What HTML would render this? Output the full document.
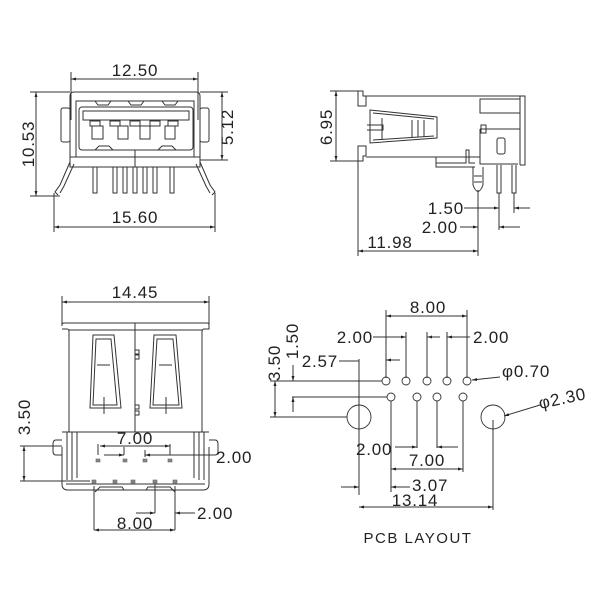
<!DOCTYPE html>
<html><head><meta charset="utf-8"><style>
html,body{margin:0;padding:0;background:#fff;}
svg{display:block;}
text{font-family:"Liberation Sans",sans-serif;fill:#222;}
</style></head><body>
<svg width="600" height="600" viewBox="0 0 600 600" xmlns="http://www.w3.org/2000/svg">
<defs>
<marker id="a" viewBox="0 0 10 10" refX="10" refY="5" markerWidth="7" markerHeight="5" orient="auto-start-reverse" markerUnits="userSpaceOnUse"><path d="M0,2 L10,5 L0,8 z" fill="#222"/></marker>
</defs>
<g stroke="#333" stroke-width="1" fill="none">
<!-- TOP LEFT VIEW -->
<line x1="71" y1="72" x2="71" y2="120"/><line x1="198" y1="72" x2="198" y2="120"/>
<line x1="71" y1="79" x2="198" y2="79" marker-start="url(#a)" marker-end="url(#a)"/>
<path d="M70,157 V96 Q70,92 74,92 H196 Q200,92 200,96 V157"/>
<rect x="61" y="108" width="9" height="34" rx="2"/><rect x="200" y="108" width="9" height="34" rx="2"/>
<path d="M76,157 V101 H194 V157"/>
<rect x="79" y="107" width="114" height="43" rx="3"/>
<rect x="83" y="111" width="106" height="9"/>
<rect x="90" y="121" width="10" height="5"/><rect x="110" y="121" width="10" height="5"/><rect x="130" y="121" width="10" height="5"/><rect x="150" y="121" width="10" height="5"/><rect x="168" y="121" width="10" height="5"/>
<rect x="92" y="126" width="11" height="13"/><rect x="118" y="126" width="10" height="13"/><rect x="140" y="126" width="10" height="13"/><rect x="165" y="126" width="10" height="13"/>
<path d="M95,150 l4,-4 h10 l4,4 M158,150 l4,-4 h10 l4,4 M95,101 l3,4 h10 l3,-4 M128,101 l3,4 h10 l3,-4 M162,101 l3,4 h10 l3,-4"/>
<rect x="70" y="157" width="130" height="10"/><line x1="135" y1="150" x2="135" y2="167"/>
<path d="M93,167 V193 H97 V167 M113,167 V193 H117 V167 M123,167 V193 H127 V167 M133,167 V193 H137 V167 M143,167 V193 H147 V167 M153,167 V193 H157 V167 M170,167 V193 H174 V167"/>
<path d="M70,162 L60,185 L55,192 L58,195 M74,164 L64,186 L60,193"/>
<path d="M200,162 L210,185 L215,192 L212,195 M196,164 L206,186 L210,193"/>
<line x1="30" y1="92" x2="70" y2="92"/><line x1="30" y1="196" x2="60" y2="196"/>
<line x1="36" y1="92" x2="36" y2="196" marker-start="url(#a)" marker-end="url(#a)"/>
<line x1="200" y1="92" x2="228" y2="92"/><line x1="200" y1="160" x2="228" y2="160"/>
<line x1="222" y1="92" x2="222" y2="160" marker-start="url(#a)" marker-end="url(#a)"/>
<line x1="54" y1="193" x2="54" y2="232"/><line x1="215" y1="193" x2="215" y2="232"/>
<line x1="54" y1="227" x2="215" y2="227" marker-start="url(#a)" marker-end="url(#a)"/>

<!-- TOP RIGHT VIEW -->
<line x1="330" y1="91" x2="360" y2="91"/><line x1="330" y1="161" x2="360" y2="161"/>
<line x1="336" y1="91" x2="336" y2="161" marker-start="url(#a)" marker-end="url(#a)"/>
<path d="M358,91 H363 V96 H366 M358,91 V106 H366 V96 M358,161 H363 V156 H366 M358,161 V146 H366 V156"/>
<path d="M366,96 H525 V165 H520 M366,157 H480"/>
<path d="M520,96 V165"/>
<rect x="480" y="99" width="40" height="14"/>
<path d="M480,129 V164 H518 M480,129 H520"/>
<rect x="481" y="125" width="5" height="8"/>
<rect x="497" y="138" width="8" height="16" rx="2"/>
<path d="M370,110 L437,117 L437,138 L370,143 Z M373,113 L434,119 M373,140 L434,136"/>
<path d="M367,125 H383 V130 H367"/><line x1="382" y1="118" x2="382" y2="140"/>
<path d="M412,120 V137 M418,120 V137 M424,120 V137"/>
<path d="M436,157 V163 H466 V150 H469 V163 H475 M436,163 V167 H475"/>
<path d="M473,167 V185 Q478,198 483,185 V167 M474,176 H482 M474,182 H482"/>
<path d="M497,165 V193 H501 V165 M512,165 V193 H516 V165"/>
<line x1="358" y1="161" x2="358" y2="256"/><line x1="478" y1="190" x2="478" y2="256"/>
<line x1="499" y1="193" x2="499" y2="230"/><line x1="514" y1="193" x2="514" y2="213"/>
<line x1="358" y1="251" x2="478" y2="251" marker-start="url(#a)" marker-end="url(#a)"/>
<line x1="464" y1="208" x2="499" y2="208" marker-end="url(#a)"/>
<line x1="530" y1="208" x2="514" y2="208" marker-end="url(#a)"/>
<line x1="460" y1="227" x2="478" y2="227" marker-end="url(#a)"/>
<line x1="520" y1="227" x2="499" y2="227" marker-end="url(#a)"/>

<!-- BOTTOM LEFT VIEW -->
<line x1="62" y1="296" x2="62" y2="326"/><line x1="209" y1="296" x2="209" y2="326"/>
<line x1="62" y1="302" x2="209" y2="302" marker-start="url(#a)" marker-end="url(#a)"/>
<path d="M62,325 Q62,323 64,323 H207 Q209,323 209,325 V329 H204 Q202,329 202,332 V432 M62,329 H67 Q69,329 69,332 V432"/>
<path d="M69,330 H202"/>
<line x1="135" y1="323" x2="135" y2="432"/>
<path d="M135,350 h4 v4 h-4 M135,355 h4 v4 h-4 M135,405 h4 v4 h-4 M135,411 h4 v4 h-4"/>
<path d="M93,335 H114 L121,408 H90 Z M96,339 H111 L117,405 H93 Z M97,365 H110"/>
<line x1="104" y1="397" x2="104" y2="414"/>
<path d="M154,335 H176 L182,408 H150 Z M157,339 H173 L179,405 H153 Z M159,365 H172"/>
<line x1="166" y1="397" x2="166" y2="414"/>
<path d="M62,432 H209 M67,432 V480 M72,432 V480 M77,432 V478 M204,432 V480 M199,432 V480 M194,432 V478"/>
<path d="M62,447 V484 Q62,490 68,490 H203 Q209,490 209,484 V447"/>
<path d="M66,484 H205"/>
<path d="M62,440 H56 Q53,440 53,444 V451 Q53,455 56,455 H62 M209,440 H215 Q218,440 218,444 V451 Q218,455 215,455 H209"/>
<g fill="#888" stroke="#666" stroke-width="0.6">
<rect x="96" y="459" width="4" height="3"/><rect x="123" y="459" width="4" height="3"/><rect x="143" y="459" width="4" height="3"/><rect x="168" y="459" width="4" height="3"/>
<rect x="92" y="480" width="4" height="3"/><rect x="113" y="480" width="4" height="3"/><rect x="131" y="480" width="4" height="3"/><rect x="153" y="480" width="4" height="3"/><rect x="173" y="480" width="4" height="3"/>
</g>
<line x1="20" y1="446" x2="62" y2="446"/><line x1="20" y1="481" x2="90" y2="481"/>
<line x1="24" y1="446" x2="24" y2="481" marker-start="url(#a)" marker-end="url(#a)"/>
<line x1="98" y1="444" x2="98" y2="455"/><line x1="170" y1="444" x2="170" y2="455"/>
<line x1="100" y1="446" x2="170" y2="446" marker-start="url(#a)" marker-end="url(#a)"/>
<line x1="124" y1="447" x2="124" y2="455"/><line x1="145" y1="450" x2="145" y2="457"/>
<line x1="104" y1="455" x2="124" y2="455" marker-end="url(#a)"/>
<line x1="215" y1="455" x2="145" y2="455" marker-end="url(#a)"/>
<path d="M94,486 V530 M175,486 V530 M155,484 V513"/>
<path d="M95,492 L100,487 H122 L124,490 M146,490 L148,487 H170 L175,492"/>
<line x1="136" y1="513" x2="155" y2="513" marker-end="url(#a)"/>
<line x1="195" y1="513" x2="175" y2="513" marker-end="url(#a)"/>
<line x1="94" y1="530" x2="175" y2="530" marker-start="url(#a)" marker-end="url(#a)"/>

<!-- PCB LAYOUT -->
<line x1="386" y1="310" x2="386" y2="378"/><line x1="467" y1="310" x2="467" y2="378"/>
<line x1="386" y1="316" x2="467" y2="316" marker-start="url(#a)" marker-end="url(#a)"/>
<line x1="406" y1="332" x2="406" y2="378"/><line x1="427" y1="332" x2="427" y2="378"/><line x1="447" y1="332" x2="447" y2="378"/>
<line x1="373" y1="337" x2="406" y2="337" marker-end="url(#a)"/>
<line x1="440" y1="337" x2="427" y2="337" marker-end="url(#a)"/>
<line x1="427" y1="337" x2="433" y2="337"/>
<line x1="470" y1="337" x2="447" y2="337" marker-end="url(#a)"/>
<line x1="400" y1="360" x2="386" y2="360" marker-end="url(#a)"/>
<line x1="339" y1="361" x2="359" y2="361"/>
<line x1="359" y1="359" x2="359" y2="495"/>
<line x1="270" y1="381" x2="382" y2="381"/><line x1="292" y1="397" x2="387" y2="397"/>
<line x1="270" y1="417" x2="347" y2="417"/>
<line x1="275" y1="381" x2="275" y2="417" marker-start="url(#a)" marker-end="url(#a)"/>
<line x1="293" y1="365" x2="293" y2="381" marker-end="url(#a)"/>
<line x1="293" y1="412" x2="293" y2="397" marker-end="url(#a)"/>
<g stroke-width="0.9">
<circle cx="386" cy="381" r="4"/><circle cx="406" cy="381" r="4"/><circle cx="427" cy="381" r="4"/><circle cx="447" cy="381" r="4"/><circle cx="467" cy="381" r="4"/>
<circle cx="391" cy="397" r="4"/><circle cx="417" cy="397" r="4"/><circle cx="437" cy="397" r="4"/><circle cx="463" cy="397" r="4"/>
<circle cx="359" cy="417" r="12"/><circle cx="493" cy="417" r="12"/>
</g>
<line x1="500" y1="377" x2="472" y2="380" marker-end="url(#a)"/>
<line x1="540" y1="405" x2="504" y2="416" marker-end="url(#a)"/>
<line x1="391" y1="401" x2="391" y2="492"/><line x1="417" y1="401" x2="417" y2="448"/>
<line x1="437" y1="401" x2="437" y2="448"/><line x1="463" y1="401" x2="463" y2="472"/>
<line x1="493" y1="420" x2="493" y2="510"/>
<line x1="395" y1="447" x2="417" y2="447" marker-end="url(#a)"/>
<line x1="458" y1="447" x2="437" y2="447" marker-end="url(#a)"/>
<line x1="391" y1="469" x2="463" y2="469" marker-start="url(#a)" marker-end="url(#a)"/>
<line x1="341" y1="487" x2="359" y2="487" marker-end="url(#a)"/>
<line x1="410" y1="487" x2="391" y2="487" marker-end="url(#a)"/>
<line x1="359" y1="507" x2="493" y2="507" marker-start="url(#a)" marker-end="url(#a)"/>
</g>
<g font-size="17" letter-spacing="0.8">
<text x="135" y="76" text-anchor="middle">12.50</text>
<text x="135" y="223" text-anchor="middle">15.60</text>
<text transform="translate(34,144) rotate(-90)" text-anchor="middle">10.53</text>
<text transform="translate(233,127) rotate(-90)" text-anchor="middle">5.12</text>
<text transform="translate(332,127) rotate(-90)" text-anchor="middle">6.95</text>
<text x="464" y="214" text-anchor="end">1.50</text>
<text x="458" y="233" text-anchor="end">2.00</text>
<text x="390" y="248" text-anchor="middle">11.98</text>
<text x="135" y="298" text-anchor="middle">14.45</text>
<text transform="translate(30,417) rotate(-90)" text-anchor="middle">3.50</text>
<text x="135" y="444" text-anchor="middle">7.00</text>
<text x="216" y="463">2.00</text>
<text x="135" y="529" text-anchor="middle">8.00</text>
<text x="197" y="519">2.00</text>
<text x="428" y="313" text-anchor="middle">8.00</text>
<text x="373" y="343" text-anchor="end">2.00</text>
<text x="473" y="343">2.00</text>
<text x="338" y="367" text-anchor="end">2.57</text>
<text transform="translate(280,363) rotate(-90)" text-anchor="middle">3.50</text>
<text transform="translate(298,341) rotate(-90)" text-anchor="middle">1.50</text>
<text x="502" y="377">φ0.70</text>
<text transform="translate(540,409) rotate(-12)">φ2.30</text>
<text x="356" y="455">2.00</text>
<text x="427" y="466" text-anchor="middle">7.00</text>
<text x="412" y="491">3.07</text>
<text x="415" y="506" text-anchor="middle">13.14</text>
<text x="418" y="543" text-anchor="middle" font-size="15" letter-spacing="1.5">PCB LAYOUT</text>
</g>
</svg>
</body></html>
